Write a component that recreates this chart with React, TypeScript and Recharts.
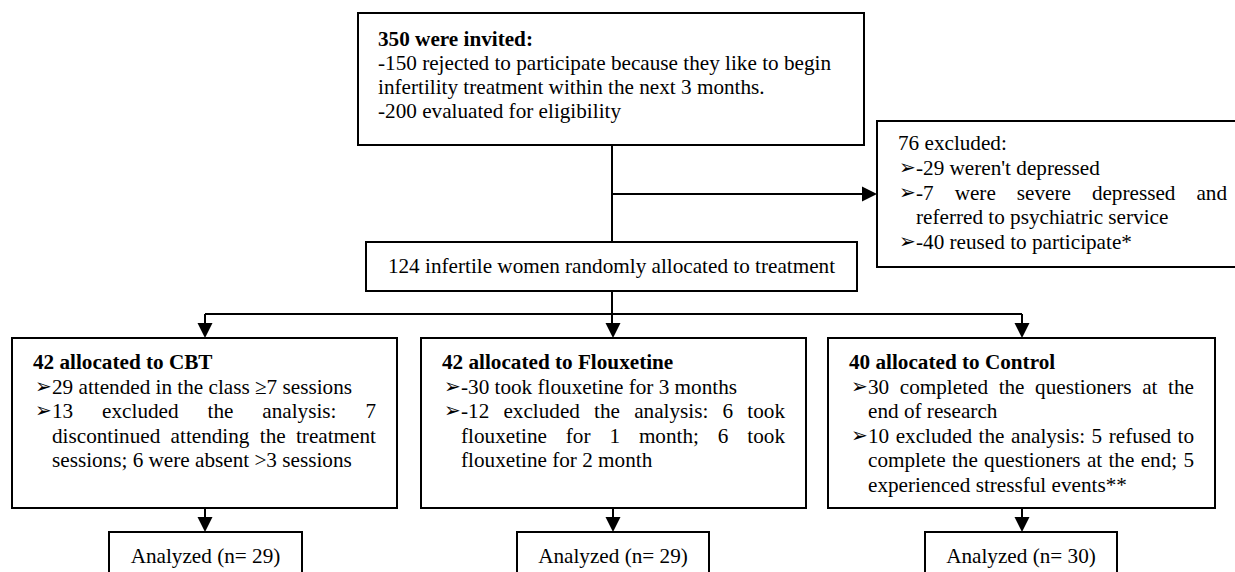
import { ScatterChart, Scatter, XAxis, YAxis, ReferenceArea, ReferenceLine } from 'recharts'

// flow chart content
const topBoxText = [
    '350 were invited:',
    '-150 rejected to participate because they like to begin',
    'infertility treatment within the next 3 months.',
    '-200 evaluated for eligibility'
]
const excludedTitle = '76 excluded:'
const excludedItems = [
    ["-29 weren't depressed"],
    ['-7 were severe depressed and', 'referred to psychiatric service'],
    ['-40 reused to participate*']
]
const randomizedText = '124 infertile women randomly allocated to treatment'
const armTitles = ['42 allocated to CBT', '42 allocated to Flouxetine', '40 allocated to Control']
const armItems = [
    [
        ['29 attended in the class \u22657 sessions'],
        ['13 excluded the analysis: 7', 'discontinued attending the treatment', 'sessions; 6 were absent >3 sessions']
    ],
    [
        ['-30 took flouxetine for 3 months'],
        ['-12 excluded the analysis: 6 took', 'flouxetine for 1 month; 6 took', 'flouxetine for 2 month']
    ],
    [
        ['30 completed the questioners at the', 'end of research'],
        ['10 excluded the analysis: 5 refused to', 'complete the questioners at the end; 5', 'experienced stressful events**']
    ]
]
const analyzedN = [29, 29, 30]

// layout (pixel units of the 1235 x 572 canvas)
const W = 1235
const H = 572
const FONT = "'Liberation Serif', 'Times New Roman', Times, serif"
const FS = 21.2
const LH = 24.5
const topBox = { x1: 358, x2: 864, y1: 13, y2: 145 }
const exclBox = { x1: 877, x2: 1250, y1: 121, y2: 267 }
const randBox = { x1: 366, x2: 857, y1: 242, y2: 291 }
const armBoxes = [
    { x1: 12, x2: 397 },
    { x1: 421, x2: 806 },
    { x1: 828, x2: 1215 }
]
const armY = { y1: 338, y2: 508 }
const anBoxes = [
    { x1: 109, x2: 302 },
    { x1: 517, x2: 709 },
    { x1: 925, x2: 1117 }
]
const anY = { y1: 532, y2: 600 }
const armCx = [205, 613, 1022]

let ctx: CanvasRenderingContext2D | null = null
function measure(s: string, bold: boolean) {
    if (!ctx) ctx = document.createElement('canvas').getContext('2d')
    if (!ctx) return s.length * 9
    ctx.font = `${bold ? 'bold ' : ''}${FS}px ${FONT}`
    return ctx.measureText(s).width
}

type Row = {
    x: number
    y: number
    text: string
    bold?: boolean
    anchor?: 'start' | 'middle'
    right?: number
    bullet?: number
}

// build text rows
const rows: Row[] = []
topBoxText.forEach((t, i) => rows.push({ x: 378, y: 46 + i * 24, text: t, bold: i === 0 }))
rows.push({ x: 898, y: 150, text: excludedTitle })
{
    let line = 0
    excludedItems.forEach(item => {
        item.forEach((t, j) => {
            rows.push({
                x: 916,
                y: 175 + line * LH,
                text: t,
                right: j < item.length - 1 ? 1227 : undefined,
                bullet: j === 0 ? 899 : undefined
            })
            line++
        })
    })
}
rows.push({ x: (randBox.x1 + randBox.x2) / 2, y: 273, text: randomizedText, anchor: 'middle' })
armTitles.forEach((title, a) => {
    const bx = armBoxes[a]
    rows.push({ x: bx.x1 + 21, y: 369, text: title, bold: true })
    let line = 1
    armItems[a].forEach(item => {
        item.forEach((t, j) => {
            rows.push({
                x: bx.x1 + 40,
                y: 369 + line * LH,
                text: t,
                right: j < item.length - 1 ? bx.x2 - 21 : undefined,
                bullet: j === 0 ? bx.x1 + 23 : undefined
            })
            line++
        })
    })
    const ab = anBoxes[a]
    rows.push({ x: (ab.x1 + ab.x2) / 2, y: 563, text: `Analyzed (n= ${analyzedN[a]})`, anchor: 'middle' })
})

// arrow heads: tip positions
const arrows = [
    { x: exclBox.x1, y: 194, dir: 'right' },
    ...armCx.map(x => ({ x, y: armY.y1, dir: 'down' })),
    ...armCx.map(x => ({ x, y: anY.y1, dir: 'down' }))
]

// connector segments
const segments = [
    [{ x: 612, y: topBox.y2 }, { x: 612, y: randBox.y1 }],
    [{ x: 612, y: 194 }, { x: exclBox.x1 - 12, y: 194 }],
    [{ x: 612, y: randBox.y2 }, { x: 612, y: armY.y1 - 12 }],
    [{ x: armCx[0], y: 314 }, { x: armCx[2], y: 314 }],
    [{ x: armCx[0], y: 314 }, { x: armCx[0], y: armY.y1 - 12 }],
    [{ x: armCx[2], y: 314 }, { x: armCx[2], y: armY.y1 - 12 }],
    ...armCx.map(x => [{ x, y: armY.y2 }, { x, y: anY.y1 - 12 }])
]

const boxes = [topBox, exclBox, randBox, ...armBoxes.map(b => ({ ...b, ...armY })), ...anBoxes.map(b => ({ ...b, ...anY }))]

function TextShape(props: any) {
    const { cx, cy, payload } = props
    const p = payload as Row
    const textStyle = { fontFamily: FONT, fontSize: FS, fontWeight: p.bold ? 700 : 400, whiteSpace: 'pre' as const }
    const bullet = p.bullet !== undefined ? (
        <text x={cx - (p.x - p.bullet)} y={cy - 1} style={{ fontFamily: "'DejaVu Sans'", fontSize: 20 }} fill="#000">
            {'\u27A2'}
        </text>
    ) : null
    if (p.right !== undefined) {
        const words = p.text.split(' ')
        const widths = words.map(w => measure(w, !!p.bold))
        const total = widths.reduce((s, v) => s + v, 0)
        const gap = words.length > 1 ? (p.right - p.x - total) / (words.length - 1) : 0
        let pos = cx
        const xs = widths.map(w => {
            const x0 = pos
            pos += w + gap
            return x0
        })
        return (
            <g>
                {bullet}
                <text y={cy} style={textStyle} fill="#000">
                    {words.map((w, i) => (
                        <tspan key={i} x={xs[i]}>
                            {w}
                        </tspan>
                    ))}
                </text>
            </g>
        )
    }
    return (
        <g>
            {bullet}
            <text x={cx} y={cy} style={textStyle} textAnchor={p.anchor || 'start'} fill="#000">
                {p.text}
            </text>
        </g>
    )
}

function ArrowShape(props: any) {
    const { cx, cy, payload } = props
    const d =
        payload.dir === 'right'
            ? `M${cx},${cy} L${cx - 15},${cy - 7.5} L${cx - 15},${cy + 7.5} Z`
            : `M${cx},${cy} L${cx - 7.5},${cy - 15} L${cx + 7.5},${cy - 15} Z`
    return <path d={d} fill="#000" />
}

export default function App() {
    return (
        <div style={{ position: 'absolute', left: 0, top: 0, width: W, height: H, background: '#fff' }}>
            <ScatterChart width={W} height={H} margin={{ top: 0, right: 0, bottom: 0, left: 0 }}>
                <XAxis type="number" dataKey="x" domain={[0, W]} allowDataOverflow hide />
                <YAxis type="number" dataKey="y" domain={[0, H]} reversed allowDataOverflow hide />
                {boxes.map((b, i) => (
                    <ReferenceArea
                        key={`box-${i}`}
                        x1={b.x1}
                        x2={b.x2}
                        y1={b.y1}
                        y2={b.y2}
                        fill="none"
                        fillOpacity={0}
                        stroke="#000"
                        strokeWidth={2}
                        strokeOpacity={1}
                        ifOverflow="visible"
                    />
                ))}
                {segments.map((s, i) => (
                    <ReferenceLine
                        key={`seg-${i}`}
                        segment={s}
                        stroke="#000"
                        strokeWidth={2}
                        ifOverflow="visible"
                    />
                ))}
                <Scatter data={arrows} shape={ArrowShape} isAnimationActive={false} />
                <Scatter data={rows} shape={TextShape} isAnimationActive={false} />
            </ScatterChart>
        </div>
    )
}
